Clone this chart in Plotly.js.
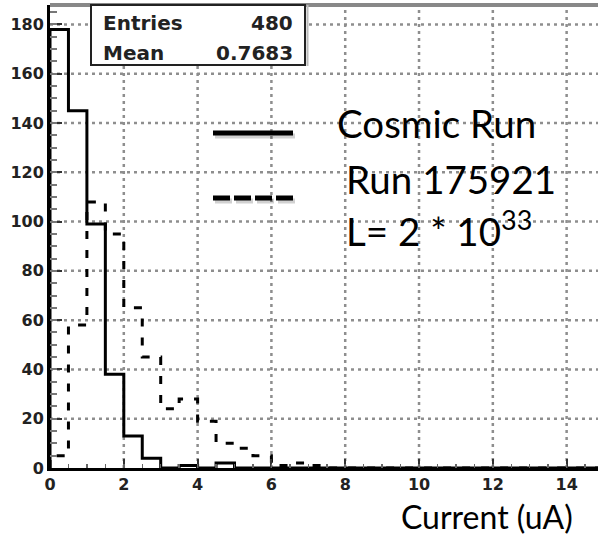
<!DOCTYPE html>
<html>
<head>
<meta charset="utf-8">
<script src="https://cdn.plot.ly/plotly-3.0.1.min.js"></script>
<style>
  html, body { margin: 0; padding: 0; background: #fff; overflow: hidden; }
  #chart { width: 598px; height: 536px; }
</style>
</head>
<body>
<div id="chart"></div>
<script>
// Histogram binning (current in uA)
const binStart = 0;
const binWidth = 0.5;

// Cosmic run: entries per bin
const cosmicCounts = [178, 145, 99, 38, 13, 4, 0, 1, 0, 2, 0, 0, 0, 0, 0,
                      0, 0, 0, 0, 0, 0, 0, 0, 0, 0, 0, 0, 0, 0, 0];
// Run 175921: entries per bin
const runCounts = [5, 58, 108, 95, 65, 45, 24, 28, 19, 10, 8, 5, 1, 2, 1,
                   0, 0, 0, 0, 0, 0, 0, 0, 0, 0, 0, 0, 0, 0, 0];

// Statistics box
const statLabels = ["Entries", "Mean"];
const statValues = ["480", "0.7683"];

// Legend texts
const seriesNames = ["Cosmic Run", "Run 175921"];
const lumiText = "L= 2 * 10<sup>33</sup>";
const xTitle = "Current (uA)";

// Axis ranges and divisions
const xRange = [0, 14.85], yRange = [0, 187.9];
const xMajor = 2, xMinor = 0.5, yMajor = 20, yMinor = 5;

// Frame geometry in pixels, used to place the overlay items
const W = 598, H = 536;
const M = { l: 50, r: 0, t: 5, b: 68 };
const plotW = W - M.l - M.r, plotH = H - M.t - M.b;
const px = p => (p - M.l) / plotW;          // page x -> paper x
const py = p => (H - M.b - p) / plotH;      // page y -> paper y

// Turn bin counts into a stepped outline
function outline(counts) {
  const x = [binStart], y = [0];
  counts.forEach((c, i) => {
    const lo = binStart + i * binWidth;
    x.push(lo, lo + binWidth);
    y.push(c, c);
  });
  return { x, y };
}

const cos = outline(cosmicCounts);
const run = outline(runCounts);

const traces = [
  { x: run.x, y: run.y, type: 'scatter', mode: 'lines', name: seriesNames[1],
    line: { color: '#000', width: 3, dash: '8px,11px' }, hoverinfo: 'skip' },
  { x: cos.x, y: cos.y, type: 'scatter', mode: 'lines', name: seriesNames[0],
    line: { color: '#000', width: 3 }, hoverinfo: 'skip' },
  // empty trace that carries the fine tick-mark axes
  { x: [], y: [], type: 'scatter', mode: 'lines', xaxis: 'x2', yaxis: 'y2', hoverinfo: 'skip' }
];

const tickFont = { family: 'DejaVu Sans', size: 16, color: '#222', weight: 'bold' };

const layout = {
  width: W, height: H,
  margin: M,
  paper_bgcolor: '#fff', plot_bgcolor: '#fff',
  showlegend: false,
  xaxis: {
    range: xRange, tick0: 0, dtick: xMajor, showgrid: false,
    showline: true, linecolor: '#000', linewidth: 3,
    ticks: 'inside', ticklen: 9, tickwidth: 2, tickcolor: '#333',
    zeroline: false, tickfont: tickFont
  },
  yaxis: {
    range: yRange, tick0: 0, dtick: yMajor, showgrid: false,
    showline: true, linecolor: '#000', linewidth: 3,
    ticks: 'inside', ticklen: 12, tickwidth: 2, tickcolor: '#333',
    zeroline: false, tickfont: tickFont
  },
  xaxis2: {
    overlaying: 'x', anchor: 'y2', range: xRange, tick0: 0, dtick: xMinor,
    showgrid: false, showline: false, zeroline: false, showticklabels: false,
    ticks: 'inside', ticklen: 4, tickwidth: 1.5, tickcolor: '#666'
  },
  yaxis2: {
    overlaying: 'y', anchor: 'x2', range: yRange, tick0: 0, dtick: yMinor,
    showgrid: false, showline: false, zeroline: false, showticklabels: false,
    ticks: 'inside', ticklen: 7, tickwidth: 2, tickcolor: '#777'
  },
  shapes: [],
  annotations: []
};

// Dotted grid at every major division
const gridLine = { color: '#8e8e8e', width: 2.5, dash: '3px,4px' };
for (let v = xMajor; v < xRange[1]; v += xMajor) {
  layout.shapes.push({ type: 'line', xref: 'x', yref: 'paper', x0: v, x1: v, y0: 0, y1: 1,
    line: gridLine, layer: 'below' });
}
for (let v = yMajor; v < yRange[1]; v += yMajor) {
  layout.shapes.push({ type: 'line', xref: 'paper', yref: 'y', x0: 0, x1: 1, y0: v, y1: v,
    line: gridLine, layer: 'below' });
}

layout.shapes.push(
  // upper frame edge
  { type: 'line', xref: 'paper', yref: 'paper', x0: 0, x1: 1, y0: 1, y1: 1,
    line: { color: '#888', width: 4 }, layer: 'above' },
  // statistics box with its shadow edge
  { type: 'line', xref: 'paper', yref: 'paper', x0: px(307.5), x1: px(307.5), y0: py(66), y1: 1,
    line: { color: '#bbb', width: 2 }, layer: 'above' },
  { type: 'rect', xref: 'paper', yref: 'paper', x0: px(91), x1: px(305), y0: py(65), y1: 1,
    fillcolor: '#fff', line: { color: '#222', width: 2 }, layer: 'above' },
  // legend samples (soft shadow first, then the line)
  { type: 'line', xref: 'paper', yref: 'paper', x0: px(215), x1: px(295), y0: py(136), y1: py(136),
    line: { color: 'rgba(0,0,0,0.18)', width: 5 }, layer: 'above' },
  { type: 'line', xref: 'paper', yref: 'paper', x0: px(213), x1: px(293), y0: py(133), y1: py(133),
    line: { color: '#000', width: 5 }, layer: 'above' },
  { type: 'line', xref: 'paper', yref: 'paper', x0: px(215), x1: px(295), y0: py(201), y1: py(201),
    line: { color: 'rgba(0,0,0,0.18)', width: 5, dash: '17px,4px' }, layer: 'above' },
  { type: 'line', xref: 'paper', yref: 'paper', x0: px(213), x1: px(293), y0: py(198), y1: py(198),
    line: { color: '#000', width: 5, dash: '17px,4px' }, layer: 'above' }
);

const statFont = { family: 'DejaVu Sans', size: 20, color: '#222', weight: 'bold' };
const statRowsY = [23.5, 52.5];
statLabels.forEach((lab, i) => {
  layout.annotations.push({ xref: 'paper', yref: 'paper', x: px(101), y: py(statRowsY[i]),
    xanchor: 'left', yanchor: 'middle', text: lab, showarrow: false, font: statFont });
  layout.annotations.push({ xref: 'paper', yref: 'paper', x: px(295), y: py(statRowsY[i]),
    xanchor: 'right', yanchor: 'middle', text: statValues[i], showarrow: false, font: statFont });
});

const bigFont = { family: 'Lato', size: 38.5, color: '#000' };
layout.annotations.push(
  { xref: 'paper', yref: 'paper', x: px(335), y: py(123), xanchor: 'left', yanchor: 'middle',
    text: seriesNames[0], showarrow: false, font: bigFont },
  { xref: 'paper', yref: 'paper', x: px(344), y: py(179), xanchor: 'left', yanchor: 'middle',
    text: seriesNames[1], showarrow: false, font: bigFont },
  { xref: 'paper', yref: 'paper', x: px(344), y: py(229), xanchor: 'left', yanchor: 'middle',
    text: lumiText, showarrow: false, font: bigFont },
  { xref: 'paper', yref: 'paper', x: px(400), y: py(516.5), xanchor: 'left', yanchor: 'middle',
    borderpad: 0, text: xTitle, showarrow: false, font: { family: 'Lato', size: 32, color: '#000' } }
);

Plotly.newPlot('chart', traces, layout, { staticPlot: true, displayModeBar: false });
</script>
</body>
</html>
